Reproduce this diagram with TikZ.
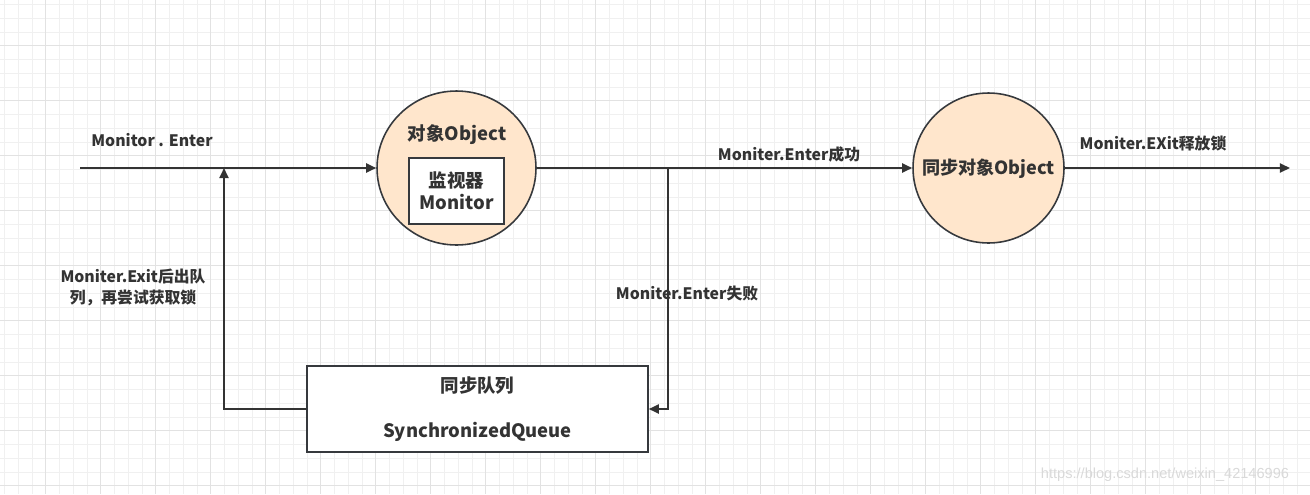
\documentclass[tikz,border=0pt]{standalone}
\usepackage{fontspec}
\setmainfont{Noto Sans CJK SC}
\newfontfamily\markfont{Liberation Sans}
\usetikzlibrary{arrows.meta,shapes.geometric}

\definecolor{peach}{HTML}{FFE6CC}
\definecolor{ink}{HTML}{333333}
\definecolor{rim}{HTML}{36393D}
\definecolor{gridminor}{HTML}{F0F0F0}
\definecolor{gridmajor}{HTML}{E2E2E2}

\begin{document}
\begin{tikzpicture}[x=0.02cm,y=-0.02cm]
  \tikzset{flow/.style={draw=ink,line width=1.1pt,-{Triangle[length=5.8pt,width=5.2pt]}},
    label/.style={text=ink,font=\bfseries\fontsize{9}{12}\selectfont,inner sep=0pt},
    objcircle/.style={ellipse,draw=rim,line width=0.9pt,fill=peach,inner sep=0pt}}

  \useasboundingbox (0,0) rectangle (1310,494);

  %% Background grid, minor lines every 13.75, major every 55
  \foreach \i in {0,...,95} {%
    \pgfmathsetmacro{\gx}{4.45+13.75*\i}
    \draw[gridminor,line width=0.5pt] (\gx,0) -- (\gx,494);
  }
  \foreach \i in {0,...,35} {%
    \pgfmathsetmacro{\gy}{4.45+13.75*\i}
    \draw[gridminor,line width=0.5pt] (0,\gy) -- (1310,\gy);
  }
  \foreach \i in {0,...,23} {%
    \pgfmathsetmacro{\gx}{45.7+55*\i}
    \draw[gridmajor,line width=0.6pt] (\gx,0) -- (\gx,494);
  }
  \foreach \i in {0,...,8} {%
    \pgfmathsetmacro{\gy}{45.7+55*\i}
    \draw[gridmajor,line width=0.6pt] (0,\gy) -- (1310,\gy);
  }

  %% The two objects and the queue
  \node[objcircle,minimum width=3.18cm,minimum height=3.08cm] (obj) at (456.5,168) {};
  \node[label,font=\bfseries\fontsize{10.5}{13}\selectfont] (objtitle) at (457,135) {对象Object};
  \node[draw=rim,line width=0.9pt,fill=white,minimum width=1.9cm,minimum height=1.32cm,
    align=center,text=ink,font=\bfseries\fontsize{10.5}{12.5}\selectfont,inner sep=0pt]
    (monitor) at (456.5,191) {监视器\\Monitor};
  \node[objcircle,minimum width=3.02cm,minimum height=3.0cm] (syncobj) at (988.5,168) {};
  \node[label,font=\bfseries\fontsize{10.3}{13}\selectfont] (synctitle) at (988.5,169) {同步对象Object};
  \node[draw=rim,line width=0.9pt,fill=white,minimum width=6.82cm,minimum height=1.72cm,
    align=center,text=ink,font=\bfseries\fontsize{10.5}{13}\selectfont,inner sep=0pt]
    (queue) at (477.5,409) {同步队列\\[13pt]SynchronizedQueue};

  %% Free ends and corners of the flow
  \coordinate (start) at (80,168);
  \coordinate (end) at (1290,168);
  \coordinate (join) at (224,168);
  \coordinate (split) at (668,168);

  %% Connectors
  \draw[flow] (start) -- (obj.west);
  \draw[flow] (obj.east) -- (syncobj.west);
  \draw[flow] (syncobj.east) -- (end);
  \draw[flow] (queue.west) -| (join);
  \draw[flow] (split) |- (queue.east);

  %% Labels on the lines
  \node[label] (enterlbl) at (152,140) {Monitor . Enter};
  \node[label,align=center,font=\bfseries\fontsize{9}{12}\selectfont] (exitlbl) at (133,287)
    {Moniter.Exit后出队\\列，再尝试获取锁};
  \node[label] (faillbl) at (687,293) {Moniter.Enter失败};
  \node[label] (oklbl) at (789,154) {Moniter.Enter成功};
  \node[label] (releaselbl) at (1153,143) {Moniter.EXit释放锁};

  \node[text=black!15,font=\markfont\fontsize{8.3}{10}\selectfont,inner sep=0pt] (mark) at (1165,475)
    {https://blog.csdn.net/weixin\_42146996};
\end{tikzpicture}
\end{document}
